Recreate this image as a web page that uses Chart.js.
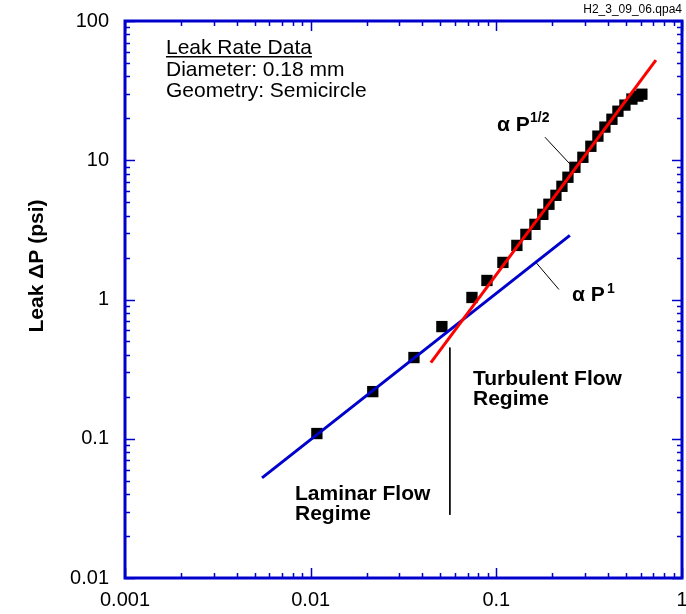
<!DOCTYPE html>
<html>
<head>
<meta charset="utf-8">
<title>Leak Rate Data</title>
<script src="https://cdn.jsdelivr.net/npm/chart.js@4"></script>
<style>
  body { margin: 0; background: #fff; }
  canvas { display: block; }
</style>
</head>
<body>
<canvas id="leakChart" width="686" height="614"></canvas>
<script>
// ---- data ----
const flowRate = [0.0108, 0.0216, 0.036, 0.0509, 0.0739, 0.089, 0.1085, 0.129, 0.1443, 0.1614,
  0.178, 0.192, 0.2094, 0.2256, 0.243, 0.265, 0.2925, 0.323, 0.3524, 0.3845,
  0.4194, 0.4518, 0.4927, 0.5373, 0.5787, 0.608];
const leakDP = [0.109, 0.218, 0.383, 0.639, 1.034, 1.37, 1.846, 2.446, 2.935, 3.464,
  4.09, 4.83, 5.60, 6.50, 7.55, 8.90, 10.5, 12.6, 14.9, 17.3,
  19.7, 22.5, 24.9, 27.5, 28.9, 29.8];

// fit lines (alpha P^1 and alpha P^1/2)
const laminarFitX = [0.00547, 0.249];
const laminarFitY = [0.0524, 2.886];
const turbulentFitX = [0.0444, 0.7235];
const turbulentFitY = [0.352, 52.4];

// leader lines + regime divider
const leaderHalfX = [0.1827, 0.2618];
const leaderHalfY = [14.64, 8.76];
const leaderOneX = [0.1634, 0.2174];
const leaderOneY = [1.846, 1.18];
const dividerX = [0.0562, 0.0562];
const dividerY = [0.4516, 0.0284];

// axes
const xMajorTicks = [0.001, 0.01, 0.1, 1];
const yMajorTicks = [0.01, 0.1, 1, 10, 100];

function withMinors(majors) {
  const out = [];
  majors.forEach((m, i) => {
    out.push(m);
    if (i < majors.length - 1) {
      for (let k = 2; k <= 9; k++) out.push(+(m * k).toPrecision(3));
    }
  });
  return out;
}
const xTickValues = withMinors(xMajorTicks);
const yTickValues = withMinors(yMajorTicks);

const toXY = (xs, ys) => xs.map((x, i) => ({ x, y: ys[i] }));

const FONT = 'Arial, "Liberation Sans", sans-serif';
const AXIS_BLUE = '#0000cc';

// ===== frame, inward ticks, annotation text =====
const framePlugin = {
  id: 'frame',
  beforeDatasetsDraw(chart) {
    const { ctx, chartArea: a, scales: { x, y } } = chart;
    ctx.save();
    ctx.strokeStyle = AXIS_BLUE;
    ctx.lineWidth = 1.5;
    ctx.beginPath();
    xTickValues.forEach(v => {
      const px = Math.round(x.getPixelForValue(v)) + 0.5;
      const len = xMajorTicks.includes(v) ? 10 : 5;
      ctx.moveTo(px, a.bottom); ctx.lineTo(px, a.bottom - len);
      ctx.moveTo(px, a.top); ctx.lineTo(px, a.top + len);
    });
    yTickValues.forEach(v => {
      const py = Math.round(y.getPixelForValue(v)) + 0.5;
      const len = yMajorTicks.includes(v) ? 10 : 5;
      ctx.moveTo(a.left, py); ctx.lineTo(a.left + len, py);
      ctx.moveTo(a.right, py); ctx.lineTo(a.right - len, py);
    });
    ctx.stroke();
    ctx.lineWidth = 3;
    ctx.strokeRect(a.left, a.top, a.right - a.left, a.bottom - a.top);
    ctx.restore();
  },
  afterDraw(chart) {
    const ctx = chart.ctx;
    ctx.save();
    ctx.fillStyle = '#000';
    ctx.textBaseline = 'alphabetic';
    ctx.textAlign = 'left';

    // info block
    ctx.font = '21px ' + FONT;
    ctx.fillText('Leak Rate Data', 166, 54);
    const w = ctx.measureText('Leak Rate Data').width;
    ctx.fillRect(166, 56, w, 1.5);
    ctx.fillText('Diameter: 0.18 mm', 166, 76);
    ctx.fillText('Geometry: Semicircle', 166, 97);

    // slope labels
    ctx.font = 'bold 21px ' + FONT;
    ctx.fillText('\u03B1 P', 497, 131);
    ctx.fillText('\u03B1 P', 572, 301);
    ctx.font = 'bold 14px ' + FONT;
    ctx.fillText('1/2', 530, 122);
    ctx.fillText('1', 607, 293);

    // regimes
    ctx.font = 'bold 21px ' + FONT;
    ctx.fillText('Turbulent Flow', 473, 385);
    ctx.fillText('Regime', 473, 405);
    ctx.fillText('Laminar Flow', 295, 500);
    ctx.fillText('Regime', 295, 520);

    // file tag
    ctx.font = '12px ' + FONT;
    ctx.textAlign = 'right';
    ctx.fillText('H2_3_09_06.qpa4', 682, 13);

    // y title
    ctx.translate(37, 266);
    ctx.rotate(-Math.PI / 2);
    ctx.textAlign = 'center';
    ctx.textBaseline = 'middle';
    ctx.font = 'bold 21px ' + FONT;
    ctx.fillText('Leak \u0394P (psi)', 0, 0);
    ctx.restore();
  }
};

const lineSet = (label, xs, ys, color, width) => ({
  label, data: toXY(xs, ys), showLine: true, borderColor: color, borderWidth: width,
  pointRadius: 0, fill: false
});

const noPad = s => { s.paddingTop = 0; s.paddingBottom = 0; s.paddingLeft = 0; s.paddingRight = 0; };

new Chart(document.getElementById('leakChart'), {
  type: 'scatter',
  data: {
    datasets: [
      lineSet('Turbulent fit', turbulentFitX, turbulentFitY, '#ff0000', 3),
      lineSet('Laminar fit', laminarFitX, laminarFitY, '#0000cc', 3),
      lineSet('leader 1/2', leaderHalfX, leaderHalfY, '#000', 1),
      lineSet('leader 1', leaderOneX, leaderOneY, '#000', 1),
      lineSet('divider', dividerX, dividerY, '#000', 1),
      {
        label: 'Leak Rate Data',
        data: toXY(flowRate, leakDP),
        pointStyle: 'rect',
        pointRadius: 8,
        backgroundColor: '#000',
        borderColor: '#000',
        borderWidth: 0
      }
    ]
  },
  options: {
    responsive: false,
    animation: false,
    devicePixelRatio: 1,
    layout: { autoPadding: false, padding: { top: 21, right: 4, left: 0, bottom: 0 } },
    plugins: { legend: { display: false }, tooltip: { enabled: false } },
    scales: {
      x: {
        type: 'logarithmic',
        min: 0.001, max: 1,
        grid: { display: false, drawTicks: false },
        border: { display: false },
        afterBuildTicks: s => { s.ticks = xTickValues.map(v => ({ value: v })); },
        afterFit: s => { s.height = 36; noPad(s); },
        ticks: {
          autoSkip: false, maxRotation: 0, padding: 10, color: '#000',
          font: { family: FONT, size: 20 },
          callback: v => xMajorTicks.includes(v) ? String(v) : ''
        }
      },
      y: {
        type: 'logarithmic',
        min: 0.01, max: 100,
        grid: { display: false, drawTicks: false },
        border: { display: false },
        afterBuildTicks: s => { s.ticks = yTickValues.map(v => ({ value: v })); },
        afterFit: s => { s.width = 125; noPad(s); },
        ticks: {
          autoSkip: false, padding: 16, color: '#000',
          font: { family: FONT, size: 20 },
          callback: v => yMajorTicks.includes(v) ? String(v) : ''
        }
      }
    }
  },
  plugins: [framePlugin]
});
</script>
</body>
</html>
